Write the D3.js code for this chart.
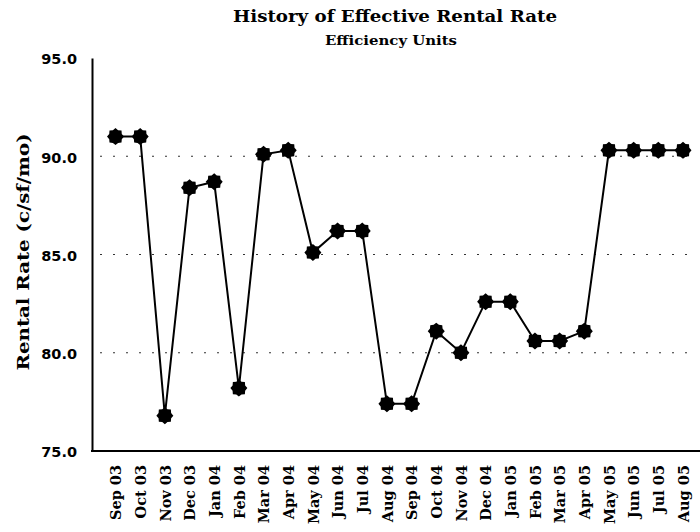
<!DOCTYPE html>
<html>
<head>
<meta charset="utf-8">
<script src="https://cdn.jsdelivr.net/npm/d3@7"></script>
<style>
html,body{margin:0;padding:0;background:#fff;}
svg{display:block;}
</style>
</head>
<body>
<svg id="chart" width="700" height="532"></svg>
<script>
const months = ["Sep 03","Oct 03","Nov 03","Dec 03","Jan 04","Feb 04","Mar 04","Apr 04","May 04","Jun 04","Jul 04","Aug 04",
  "Sep 04","Oct 04","Nov 04","Dec 04","Jan 05","Feb 05","Mar 05","Apr 05","May 05","Jun 05","Jul 05","Aug 05"];
const rentalRate = [91.0,91.0,76.8,88.4,88.7,78.2,90.1,90.3,85.1,86.2,86.2,77.4,
  77.4,81.1,80.0,82.6,82.6,80.6,80.6,81.1,90.3,90.3,90.3,90.3];
const yTicks = [75,80,85,90,95];
const gridValues = [80,85,90];
const titleText = "History of Effective Rental Rate";
const subtitleText = "Efficiency Units";
const yTitleText = "Rental Rate (c/sf/mo)";

const svg = d3.select("#chart");
const serif = "'DejaVu Serif', 'Liberation Serif', serif";

const x = d3.scalePoint().domain(months).range([115.5, 683]);
const y = d3.scaleLinear().domain([75, 95]).range([451, 58]);

// gridlines
svg.append("g").selectAll("line").data(gridValues).join("line")
  .attr("x1", 100).attr("x2", 692)
  .attr("y1", d => y(d)).attr("y2", d => y(d))
  .attr("stroke", "#333").attr("stroke-width", 1.2)
  .attr("stroke-dasharray", "2,11");

// y axis
const yAxis = svg.append("g").attr("transform", "translate(92,0)")
  .call(d3.axisLeft(y).tickValues(yTicks).tickFormat(d3.format(".1f")).tickSize(0).tickPadding(15));
yAxis.select(".domain").attr("stroke", "#000").attr("stroke-width", 2);
yAxis.selectAll("text").attr("font-family", "'DejaVu Sans', sans-serif")
  .attr("font-weight", "bold").attr("font-size", 14.5).attr("fill", "#000").attr("dy", "0.4em");

// x axis
const xAxis = svg.append("g").attr("transform", "translate(0,451)")
  .call(d3.axisBottom(x).tickSize(0).tickPadding(0));
xAxis.select(".domain").remove();
svg.append("line").attr("x1", 91).attr("x2", 700).attr("y1", 451).attr("y2", 451)
  .attr("stroke", "#000").attr("stroke-width", 2);
xAxis.selectAll("text")
  .attr("font-family", serif).attr("font-weight", "bold").attr("font-size", 14.5).attr("fill", "#000")
  .attr("transform", "rotate(-90)")
  .attr("text-anchor", "end")
  .attr("x", -14).attr("y", 0).attr("dy", "0.36em");

// line
const line = d3.line().x((d, i) => x(months[i])).y(d => y(d));
svg.append("path").datum(rentalRate).attr("d", line)
  .attr("fill", "none").attr("stroke", "#000").attr("stroke-width", 2);

// markers (burst shape)
const burstPts = d3.range(16).map(i => [i * 2 * Math.PI / 16, i % 2 === 0 ? 8.5 : 6.8]);
const burst = d3.lineRadial().curve(d3.curveLinearClosed)(burstPts);
svg.append("g").selectAll("path").data(rentalRate).join("path")
  .attr("d", burst)
  .attr("transform", (d, i) => `translate(${x(months[i])},${y(d)})`)
  .attr("fill", "#000");

// titles
svg.append("text").attr("x", 395).attr("y", 22).attr("text-anchor", "middle")
  .attr("font-family", serif).attr("font-weight", "bold").attr("font-size", 16)
  .attr("textLength", 324).attr("lengthAdjust", "spacingAndGlyphs")
  .text(titleText);
svg.append("text").attr("x", 391).attr("y", 45).attr("text-anchor", "middle")
  .attr("font-family", serif).attr("font-weight", "bold").attr("font-size", 13)
  .attr("textLength", 132).attr("lengthAdjust", "spacingAndGlyphs")
  .text(subtitleText);
svg.append("text").attr("transform", "translate(29,252) rotate(-90)").attr("text-anchor", "middle")
  .attr("font-family", serif).attr("font-weight", "bold").attr("font-size", 17)
  .attr("textLength", 237).attr("lengthAdjust", "spacingAndGlyphs")
  .text(yTitleText);
</script>
</body>
</html>
